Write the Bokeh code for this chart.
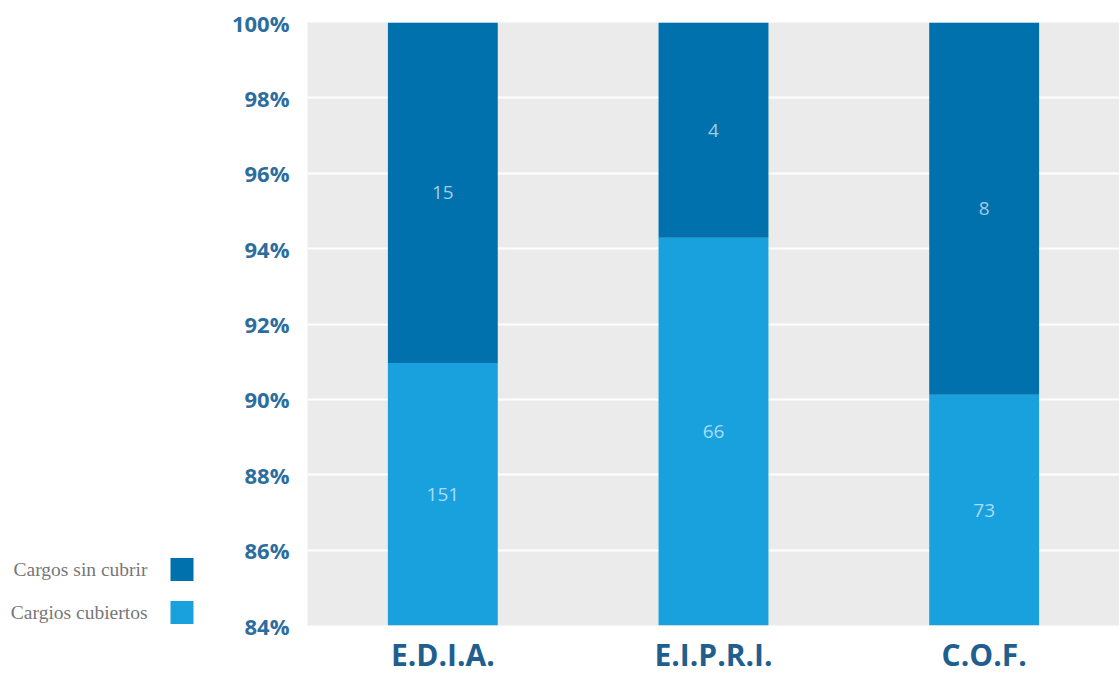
from bokeh.plotting import figure
from bokeh.layouts import row
from bokeh.models import ColumnDataSource, LabelSet, FixedTicker, Range1d
from bokeh.core.properties import value
from bokeh.embed import file_html
from bokeh.resources import INLINE

categories = ["E.D.I.A.", "E.I.P.R.I.", "C.O.F."]
cubiertos = [151, 66, 73]
sin_cubrir = [15, 4, 8]
y_ticks = [84, 86, 88, 90, 92, 94, 96, 98, 100]
series_names = ["Cargos sin cubrir", "Cargios cubiertos"]

DARK = "#0071ac"
LIGHT = "#18a1dd"

tot = [a + b for a, b in zip(cubiertos, sin_cubrir)]
pc_cub = [a / t * 100 for a, t in zip(cubiertos, tot)]
pc_sin = [b / t * 100 for b, t in zip(sin_cubrir, tot)]

src = ColumnDataSource(dict(
    cat=categories, cub=pc_cub, sin=pc_sin,
    cub_lbl=[str(v) for v in cubiertos], sin_lbl=[str(v) for v in sin_cubrir],
    cub_mid=[(84 + p) / 2 for p in pc_cub],
    sin_mid=[(p + 100) / 2 for p in pc_cub],
))

LEFT_W = 220
p = figure(x_range=categories, y_range=(84, 100), width=1119 - LEFT_W, height=677,
           output_backend="svg", toolbar_location=None,
           min_border_left=307 - LEFT_W, min_border_right=0, min_border_top=22,
           min_border_bottom=0)
p.outline_line_color = None
p.background_fill_color = "#ebebeb"
p.x_range.range_padding = 0

p.vbar_stack(["cub", "sin"], x="cat", width=0.406, color=[LIGHT, DARK], source=src,
             line_color=None)

p.xgrid.grid_line_color = None
p.ygrid.grid_line_color = "white"
p.ygrid.grid_line_width = 2
p.ygrid.ticker = FixedTicker(ticks=y_ticks)

p.yaxis.ticker = FixedTicker(ticks=y_ticks)
p.yaxis.major_label_overrides = {t: f"{t}%" for t in y_ticks}
p.yaxis.axis_line_color = None
p.yaxis.major_tick_line_color = None
p.yaxis.minor_tick_line_color = None
p.yaxis.major_label_text_font = "Open Sans"
p.yaxis.major_label_text_font_style = "bold"
p.yaxis.major_label_text_font_size = "22px"
p.yaxis.major_label_text_color = "#2b6e9e"
p.yaxis.major_label_standoff = 12

p.xaxis.axis_line_color = None
p.xaxis.major_tick_line_color = None
p.xaxis.major_tick_out = 0
p.xaxis.major_tick_in = 0
p.xaxis.major_label_text_font = "Open Sans"
p.xaxis.major_label_text_font_style = "bold"
p.xaxis.major_label_text_font_size = "30px"
p.xaxis.major_label_text_color = "#1f5f8f"
p.xaxis.major_label_standoff = 8

p.add_layout(LabelSet(x="cat", y="cub_mid", text="cub_lbl", source=src,
                      text_align="center", text_baseline="middle",
                      text_font=value("Open Sans"), text_font_size="19px", text_color="#a9dcf5"))
p.add_layout(LabelSet(x="cat", y="sin_mid", text="sin_lbl", source=src,
                      text_align="center", text_baseline="middle",
                      text_font=value("Open Sans"), text_font_size="19px", text_color="#a3cbe3"))

# legend panel on the left (page-pixel coordinates, y from top)
leg = figure(width=LEFT_W, height=677, x_range=Range1d(0, LEFT_W), y_range=Range1d(625, 22),
             output_backend="svg", toolbar_location=None,
             min_border_left=0, min_border_right=0, min_border_top=22, min_border_bottom=52)
leg.axis.visible = False
leg.grid.visible = False
leg.outline_line_color = None
leg_src = ColumnDataSource(dict(
    name=series_names, color=[DARK, LIGHT],
    sq_x=[181.5, 181.5], y=[569, 612], tx=[147, 147],
))
leg.rect(x="sq_x", y="y", width=23, height=23, fill_color="color", line_color=None, source=leg_src)
leg.text(x="tx", y="y", text="name", source=leg_src, text_align="right", text_baseline="middle",
         text_font=value("Liberation Serif"), text_font_size="19.5px", text_color="#777777")

layout = row(leg, p, spacing=0)
open("out.html", "w").write(file_html(layout, INLINE))
